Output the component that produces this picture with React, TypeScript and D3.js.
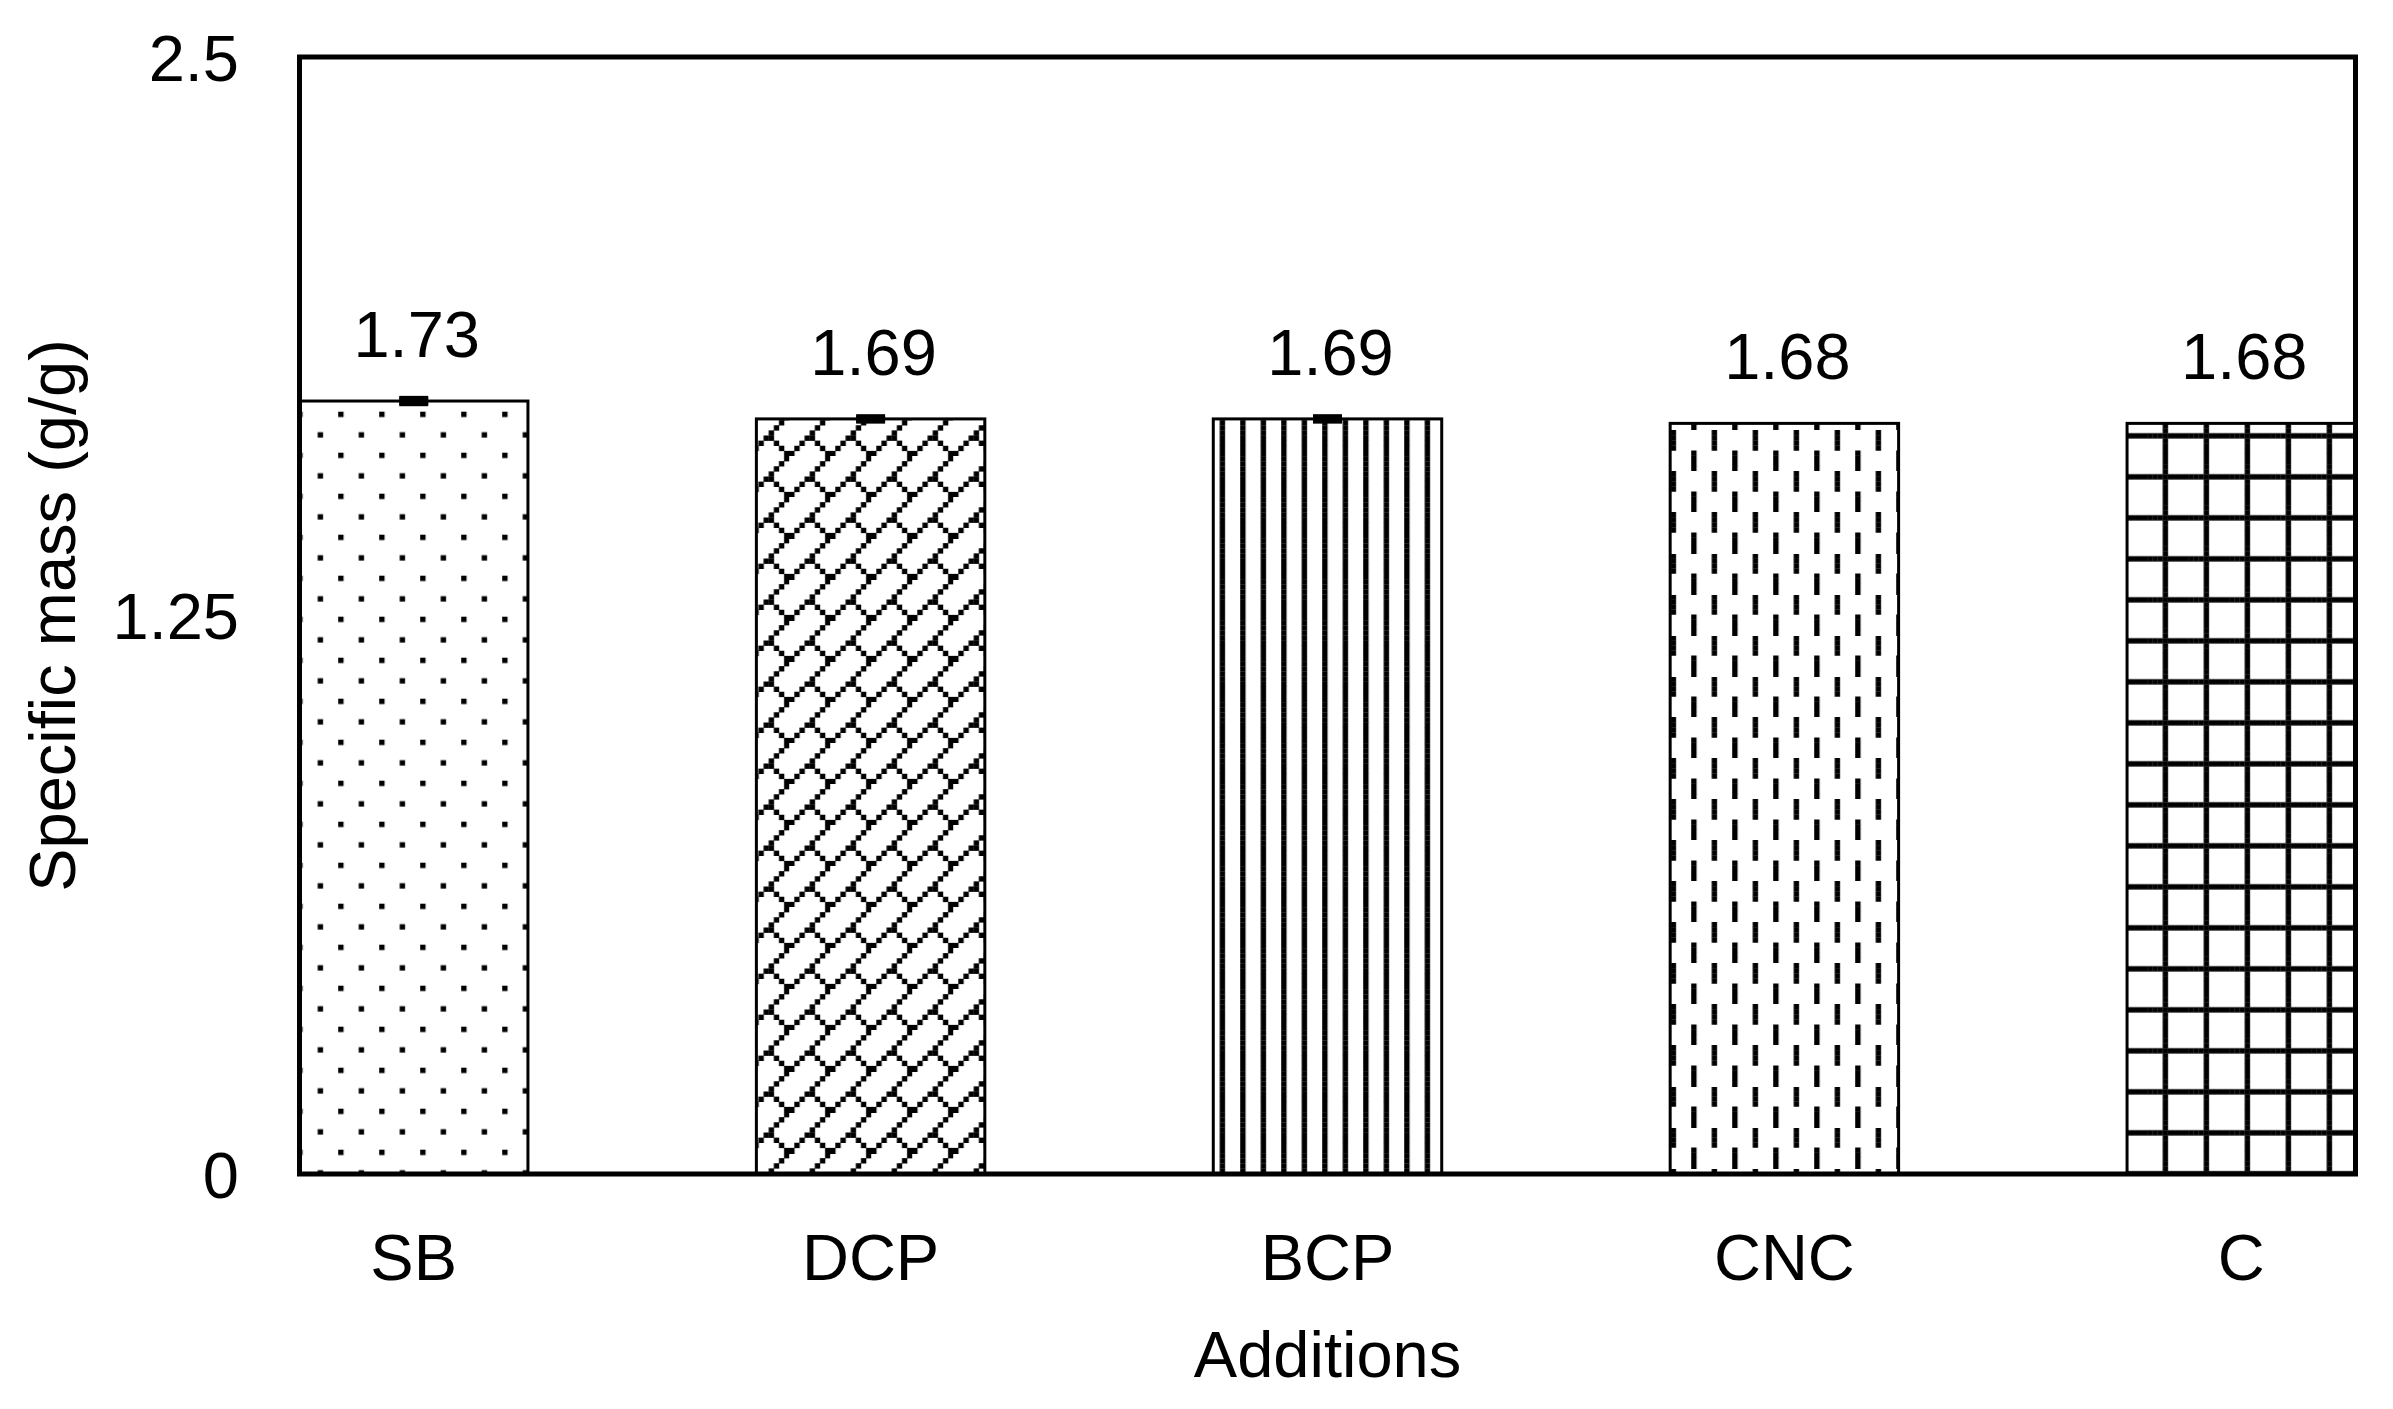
import React from "react";
import * as d3 from "d3";

const categories: string[] = ["SB", "DCP", "BCP", "CNC", "C"];
const values: number[] = [1.73, 1.69, 1.69, 1.68, 1.68];
const errors: number[] = [0.008, 0.007, 0.007, 0, 0];
const valueLabels: string[] = ["1.73", "1.69", "1.69", "1.68", "1.68"];
const yTicks: number[] = [0, 1.25, 2.5];
const yTickLabels: string[] = ["0", "1.25", "2.5"];
const xTitle = "Additions";
const yTitle = "Specific mass (g/g)";

// 8x8 Excel-like fill bitmaps ('#' = black pixel), one per bar
const patternBitmaps: string[][] = [
  // 5%
  ["#.......", "........", "........", "........", "....#...", "........", "........", "........"],
  // diagonal brick
  [".......#", "......#.", ".....#..", "....#...", "...##...", "..#..#..", ".#....#.", "#......#"],
  // light vertical
  ["#...#...", "#...#...", "#...#...", "#...#...", "#...#...", "#...#...", "#...#...", "#...#..."],
  // dashed vertical
  ["....#...", "....#...", "....#...", "....#...", "#.......", "#.......", "#.......", "#......."],
  // large grid
  ["....#...", "....#...", "....#...", "########", "....#...", "....#...", "....#...", "....#..."],
];
const patternOffsetY: number[] = [1.7, 5, 0, 20, 7.8];

const W = 2393;
const H = 1409;
const M = { left: 299.5, right: 2355.5, top: 57, bottom: 1174 };
const FONT = "'Liberation Sans', Arial, Helvetica, sans-serif";
const FS = 65;
const TILE = 41;
const PX = TILE / 8;
const OX = 10.2;

export default function App() {
  const x = d3
    .scaleBand<string>()
    .domain(categories)
    .range([M.left, M.right])
    .paddingInner(0.5)
    .paddingOuter(0);
  const y = d3.scaleLinear().domain([0, 2.5]).range([M.bottom, M.top]);
  const bw = x.bandwidth();
  const capHalf = 14.5;

  return (
    <svg
      width={W}
      height={H}
      style={{ position: "absolute", left: 0, top: 0, display: "block" }}
      xmlns="http://www.w3.org/2000/svg"
    >
      <defs>
        {patternBitmaps.map((bm, i) => (
          <pattern
            key={i}
            id={`pat-${i}`}
            patternUnits="userSpaceOnUse"
            x={OX}
            y={patternOffsetY[i]}
            width={TILE}
            height={TILE}
          >
            <rect x={0} y={0} width={TILE} height={TILE} fill="#fff" />
            {bm.flatMap((row, r) =>
              row.split("").map((ch, c) =>
                ch === "#" ? (
                  <rect
                    key={`${r}-${c}`}
                    x={c * PX}
                    y={r * PX}
                    width={PX + 0.25}
                    height={PX + 0.25}
                    fill="#000"
                  />
                ) : null
              )
            )}
          </pattern>
        ))}
      </defs>
      <rect x={0} y={0} width={W} height={H} fill="#fff" />

      {categories.map((cat, i) => {
        const x0 = x(cat) as number;
        const top = y(values[i]);
        return (
          <rect
            key={cat}
            x={x0}
            y={top}
            width={bw}
            height={y(0) - top}
            fill={`url(#pat-${i})`}
            stroke="#000"
            strokeWidth={3}
          />
        );
      })}

      {categories.map((cat, i) => {
        if (!errors[i]) return null;
        const cx = (x(cat) as number) + bw / 2;
        const y1 = y(values[i] + errors[i]);
        const y2 = y(values[i] - errors[i]);
        return (
          <g key={`err-${cat}`} stroke="#000" strokeWidth={3.2}>
            <line x1={cx} x2={cx} y1={y1} y2={y2} />
            <line x1={cx - capHalf} x2={cx + capHalf} y1={y1} y2={y1} />
            <line x1={cx - capHalf} x2={cx + capHalf} y1={y2} y2={y2} />
            <rect x={cx - capHalf} y={y1} width={capHalf * 2} height={y2 - y1} fill="#000" stroke="none" />
          </g>
        );
      })}

      <rect
        x={M.left}
        y={M.top}
        width={M.right - M.left}
        height={M.bottom - M.top}
        fill="none"
        stroke="#000"
        strokeWidth={5}
      />

      {yTicks.map((t, i) => (
        <text
          key={`yt-${i}`}
          x={239}
          y={y(t) + 23.5}
          textAnchor="end"
          fontFamily={FONT}
          fontSize={FS}
          fill="#000"
        >
          {yTickLabels[i]}
        </text>
      ))}

      {categories.map((cat) => (
        <text
          key={`xl-${cat}`}
          x={(x(cat) as number) + bw / 2}
          y={1280}
          textAnchor="middle"
          fontFamily={FONT}
          fontSize={FS}
          fill="#000"
        >
          {cat}
        </text>
      ))}

      {categories.map((cat, i) => (
        <text
          key={`vl-${cat}`}
          x={(x(cat) as number) + bw / 2 + 3}
          y={y(values[i]) - 44}
          textAnchor="middle"
          fontFamily={FONT}
          fontSize={FS}
          fill="#000"
        >
          {valueLabels[i]}
        </text>
      ))}

      <text
        x={(M.left + M.right) / 2}
        y={1377}
        textAnchor="middle"
        fontFamily={FONT}
        fontSize={FS}
        fill="#000"
      >
        {xTitle}
      </text>

      <text
        transform={`translate(75, ${(M.top + M.bottom) / 2}) rotate(-90)`}
        textAnchor="middle"
        fontFamily={FONT}
        fontSize={FS}
        fill="#000"
      >
        {yTitle}
      </text>
    </svg>
  );
}
